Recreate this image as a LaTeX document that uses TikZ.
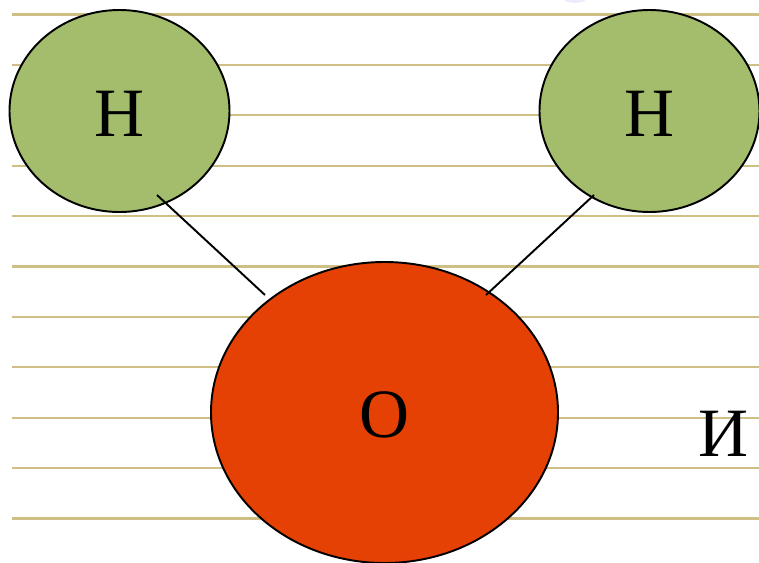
\documentclass[tikz,border=0pt]{standalone}
\usepackage{fontspec}
\setmainfont{Liberation Serif}
\usepackage{tikz}
\usetikzlibrary{calc}
\usetikzlibrary{positioning}
\usetikzlibrary{shapes.geometric}
\definecolor{leafgreen}{RGB}{163, 189, 108}
\definecolor{flamered}{RGB}{230, 65, 5}
\definecolor{sandline}{RGB}{207, 191, 133}
\definecolor{paleblue}{RGB}{236, 236, 252}
\tikzset{
    atom/.style={draw=black, ellipse, line width=0.55pt, inner sep=0pt, text height=0.51cm, font=\fontsize{19.7pt}{24pt}\selectfont},
    hatom/.style={atom, fill=leafgreen, minimum width=2.20cm, minimum height=2.02cm},
    oatom/.style={atom, fill=flamered, minimum width=3.47cm, minimum height=3.01cm},
    bond/.style={black, line width=0.55pt},
    ruleline/.style={sandline, line width=0.6pt}
}

\begin{document}
\begin{tikzpicture}
            \useasboundingbox (0.00, 0.00) rectangle (7.59, 5.62);
            \fill[paleblue] (5.75, 5.63) ellipse (0.11 and 0.04);
            \foreach \k in {0,...,10}
                \draw[ruleline] (0.12, 5.475-0.504*\k) -- (7.59, 5.475-0.504*\k);
            \node[hatom] (hleft)  at (1.195, 4.51) {H};
            \node[hatom] (hright) at (6.495, 4.51) {H};
            \node[oatom] (oxygen) at (3.845, 1.495) {O};
            \node[font=\fontsize{19.7pt}{24pt}\selectfont] (letter) at (7.23, 1.28) {И};
            \coordinate (bondla) at ($(hleft)+(0.375,-0.84)$);
            \coordinate (bondlb) at ($(oxygen)+(-1.195,1.175)$);
            \coordinate (bondra) at ($(hright)+(-0.555,-0.84)$);
            \coordinate (bondrb) at ($(oxygen)+(1.015,1.175)$);
            \draw[bond] (bondla) -- (bondlb);
            \draw[bond] (bondra) -- (bondrb);
        \end{tikzpicture}
\end{document}
